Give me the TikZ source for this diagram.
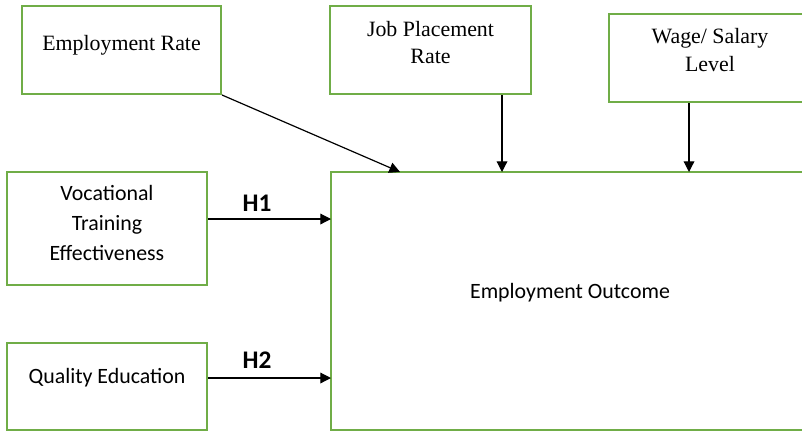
\documentclass[tikz,border=0pt]{standalone}
\usepackage{fontspec}
\setmainfont{Liberation Serif}
\newfontfamily\calibri{Carlito}
\usetikzlibrary{arrows.meta}
\definecolor{boxgreen}{RGB}{112,173,71}
\tikzset{
  box/.style={draw=boxgreen, line width=1.5pt, rectangle, inner sep=0pt},
  serifcap/.style={font=\fontsize{16.4}{20.3}\selectfont, align=center},
  sanscap/.style={font=\calibri\fontsize{16.4}{22.5}\selectfont, align=center},
  hyp/.style={font=\calibri\bfseries\fontsize{19}{20}\selectfont},
  link/.style={draw=black, line width=0.9pt, -{Triangle[length=8pt,width=8pt]}}
}
\begin{document}
\begin{tikzpicture}[x=0.75pt,y=0.75pt,yscale=-1,xscale=1]
\useasboundingbox (0,0) rectangle (802,433);
\clip (0,0) rectangle (802,433);

%Shape: Rectangle
\node[box, minimum width=149.25pt, minimum height=66pt] (emprate) at (121.5,50) {};
%Shape: Rectangle
\node[box, minimum width=150.75pt, minimum height=66pt] (jobrate) at (430.5,50) {};
%Shape: Rectangle
\node[box, minimum width=225pt, minimum height=66pt] (wage) at (759,58) {};
%Shape: Rectangle
\node[box, minimum width=150pt, minimum height=84.75pt] (voc) at (107,228.5) {};
%Shape: Rectangle
\node[box, minimum width=150pt, minimum height=65.25pt] (qual) at (107,386.5) {};
%Shape: Rectangle
\node[box, minimum width=450pt, minimum height=193.5pt] (outcome) at (631,301) {};

% Text Node
\node[serifcap] (emprate-t) at (121.5,45) {Employment Rate};
% Text Node
\node[serifcap] (jobrate-t) at (430.5,42.5) {Job Placement\\Rate};
% Text Node
\node[serifcap] (wage-t) at (710,50) {Wage/ Salary\\Level};
% Text Node
\node[sanscap] (voc-t) at (107,223) {Vocational\\Training\\Effectiveness};
% Text Node
\node[sanscap] (qual-t) at (107,378) {Quality Education};
% Text Node
\node[sanscap] (outcome-t) at (570,293) {Employment Outcome};
% Text Node
\node[hyp] (h1) at (257,203) {H1};
% Text Node
\node[hyp] (h2) at (257,360) {H2};

%Straight Lines
\coordinate (erin) at (400,172);
\coordinate (jpin) at (502,172);
\coordinate (wgin) at (689,172);
\coordinate (h1in) at (331,219);
\coordinate (h2in) at (331,378);
\draw[link] (emprate.south east) -- (erin);
\draw[link] (jobrate.south -| jpin) -- (jpin);
\draw[link] (wage.south -| wgin) -- (wgin);
\draw[link] (voc.east |- h1in) -- (h1in);
\draw[link] (qual.east |- h2in) -- (h2in);

\end{tikzpicture}
\end{document}
